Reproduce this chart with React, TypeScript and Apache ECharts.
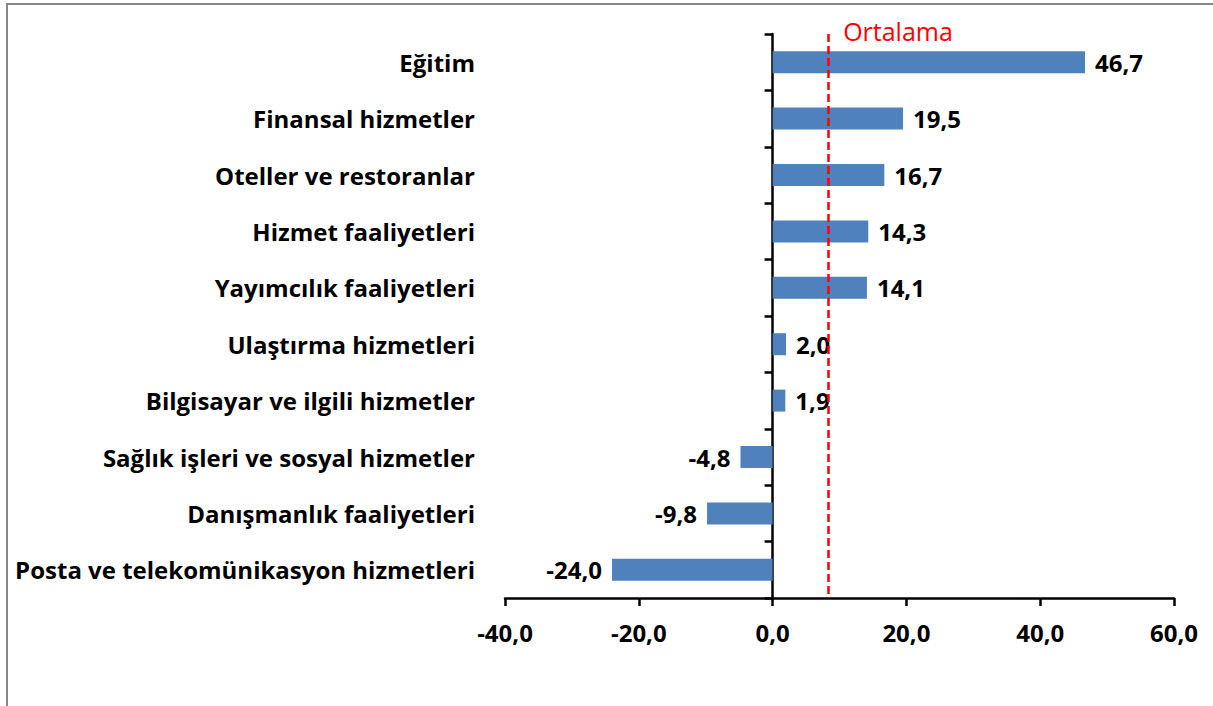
import { useEffect, useRef } from 'react';
import * as echarts from 'echarts';

const categories = [
  'Eğitim',
  'Finansal hizmetler',
  'Oteller ve restoranlar',
  'Hizmet faaliyetleri',
  'Yayımcılık faaliyetleri',
  'Ulaştırma hizmetleri',
  'Bilgisayar ve ilgili hizmetler',
  'Sağlık işleri ve sosyal hizmetler',
  'Danışmanlık faaliyetleri',
  'Posta ve telekomünikasyon hizmetleri',
];
const values = [46.7, 19.5, 16.7, 14.3, 14.1, 2.0, 1.9, -4.8, -9.8, -24.0];
const average = 8.3;
const averageLabel = 'Ortalama';
const xMin = -40;
const xMax = 60;
const xInterval = 20;

const FONT = 'Open Sans';
const fmt = (v: number) => v.toFixed(1).replace('.', ',');

export default function App() {
  const ref = useRef<HTMLDivElement>(null);
  useEffect(() => {
    const chart = echarts.init(ref.current!, null, { renderer: 'svg' });
    chart.setOption({
      animation: false,
      textStyle: { fontFamily: FONT },
      grid: { left: 505, right: 39, top: 34, bottom: 108, outerBoundsMode: 'none', containLabel: false },
      xAxis: {
        type: 'value',
        min: xMin,
        max: xMax,
        interval: xInterval,
        splitLine: { show: false },
        axisLine: { show: true, onZero: false, lineStyle: { color: '#000', width: 2.5 } },
        axisTick: { show: true, length: 8, lineStyle: { color: '#000', width: 2.5 } },
        axisLabel: {
          color: '#000',
          fontWeight: 'bold',
          fontSize: 24,
          fontFamily: FONT,
          margin: 22,
          formatter: (v: number) => fmt(v),
        },
      },
      yAxis: {
        type: 'category',
        inverse: true,
        data: categories,
        axisLine: { show: true, onZero: true, lineStyle: { color: '#000', width: 2.5 } },
        axisTick: { show: true, length: 8, lineStyle: { color: '#000', width: 2.5 } },
        axisLabel: {
          color: '#000',
          fontWeight: 'bold',
          fontSize: 24,
          fontFamily: FONT,
          margin: 30,
        },
      },
      series: [
        {
          type: 'bar',
          barWidth: 22,
          itemStyle: { color: '#4F81BD' },
          data: values.map((v) => ({
            value: v,
            label: { position: v < 0 ? 'left' : 'right' },
          })),
          label: {
            show: true,
            color: '#000',
            fontWeight: 'bold',
            fontSize: 24,
            fontFamily: FONT,
            distance: 10,
            formatter: (p: any) => fmt(p.value),
          },
          markLine: {
            silent: true,
            symbol: 'none',
            z: 10,
            lineStyle: { color: '#FF0000', width: 2.5, type: [8, 4] },
            label: { show: false },
            data: [{ xAxis: average }],
          },
        },
      ],
      graphic: [
        {
          id: 'border',
          type: 'rect',
          shape: { x: 7, y: 4, width: 1240, height: 740 },
          style: { fill: 'none', stroke: '#888', lineWidth: 2 },
          silent: true,
        },
      ],
    });
    const px = chart.convertToPixel({ xAxisIndex: 0 }, average) as number;
    chart.setOption({
      graphic: [
        {
          id: 'avgLabel',
          type: 'text',
          x: px + 15,
          y: 31,
          style: {
            text: averageLabel,
            fill: '#FF0000',
            font: `25px ${FONT}`,
            textVerticalAlign: 'middle',
            verticalAlign: 'middle',
          },
        },
      ],
    });
    return () => chart.dispose();
  }, []);
  return (
    <div
      ref={ref}
      style={{ position: 'fixed', left: 0, top: 0, width: 1213, height: 706, background: '#fff' }}
    />
  );
}
